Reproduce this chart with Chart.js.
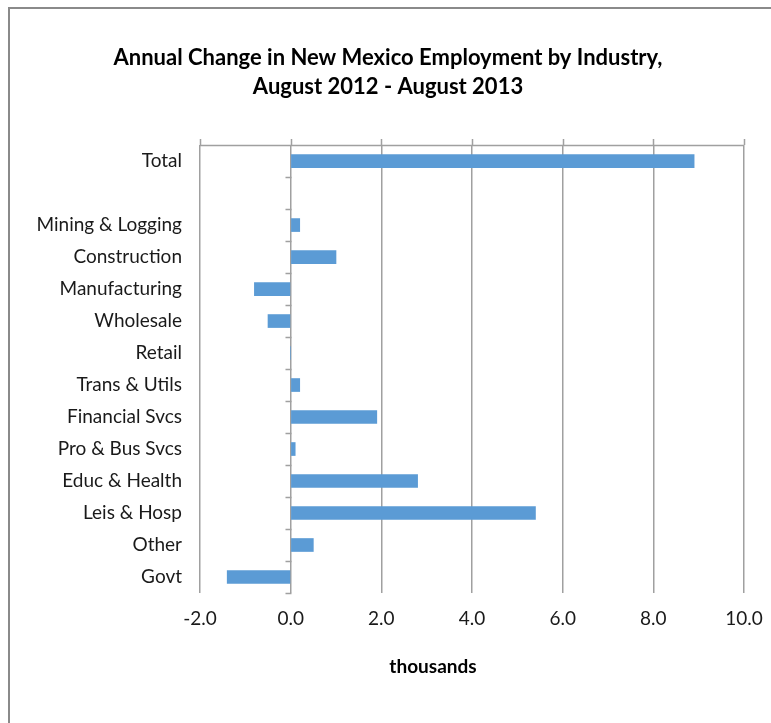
<!DOCTYPE html>
<html>
<head>
<meta charset="utf-8">
<script src="https://cdn.jsdelivr.net/npm/chart.js@4.4.1/dist/chart.umd.min.js"></script>
<style>
  html, body { margin: 0; padding: 0; background: #fff; overflow: hidden; }
  #wrap { position: relative; width: 771px; height: 723px; }
  #frame { position: absolute; left: 8px; top: 7px; width: 800px; height: 800px;
           border-left: 2px solid #8a8a8a; border-top: 2px solid #8a8a8a; }
  canvas { position: absolute; left: 0; top: 0; }
</style>
</head>
<body>
<div id="wrap">
  <div id="frame"></div>
  <canvas id="chart" width="771" height="723"></canvas>
</div>
<script>
const industries = ['Total', '', 'Mining & Logging', 'Construction', 'Manufacturing', 'Wholesale',
  'Retail', 'Trans & Utils', 'Financial Svcs', 'Pro & Bus Svcs', 'Educ & Health',
  'Leis & Hosp', 'Other', 'Govt'];
const changeThousands = [8.9, null, 0.2, 1.0, -0.8, -0.5, 0, 0.2, 1.9, 0.1, 2.8, 5.4, 0.5, -1.4];
const xTicks = [-2, 0, 2, 4, 6, 8, 10];

const fontFamily = 'Lato, "Open Sans", sans-serif';
const lineColor = '#a0a0a0';

// axis line at top, category ticks at zero, x-axis title
const excelAxes = {
    id: 'excelAxes',
    afterDatasetsDraw(chart) {
        const { ctx, chartArea, scales } = chart;
        const x = scales.x;
        ctx.save();
        ctx.strokeStyle = lineColor;
        ctx.lineWidth = 1.5;
        ctx.beginPath();
        ctx.moveTo(chartArea.left, chartArea.top + 0.5);
        ctx.lineTo(chartArea.right, chartArea.top + 0.5);
        xTicks.forEach(v => {
            const px = Math.round(x.getPixelForValue(v)) + 0.5;
            ctx.moveTo(px, chartArea.top);
            ctx.lineTo(px, chartArea.top - 6);
        });
        const x0 = Math.round(x.getPixelForValue(0)) + 0.5;
        const band = (chartArea.bottom - chartArea.top) / industries.length;
        for (let i = 1; i <= industries.length; i++) {
            const py = Math.round(chartArea.top + i * band) + 0.5;
            ctx.moveTo(x0 - 6, py);
            ctx.lineTo(x0, py);
        }
        ctx.stroke();

        ctx.fillStyle = '#000';
        ctx.font = 'bold 19px ' + fontFamily;
        ctx.textAlign = 'center';
        ctx.textBaseline = 'middle';
        ctx.fillText('thousands', 433, 667);
        ctx.restore();
    }
};

new Chart(document.getElementById('chart'), {
    type: 'bar',
    data: {
        labels: industries,
        datasets: [{
            data: changeThousands,
            backgroundColor: '#5b9bd5',
            barThickness: 13
        }]
    },
    options: {
        indexAxis: 'y',
        responsive: false,
        animation: false,
        layout: { padding: { top: 0, left: 32, right: 27, bottom: 0 } },
        plugins: {
            legend: { display: false },
            tooltip: { enabled: false },
            title: {
                display: true,
                text: ['Annual Change in New Mexico Employment by Industry,', 'August 2012 - August 2013'],
                color: '#000',
                font: { family: fontFamily, size: 22, weight: 'bold', lineHeight: 1.32 },
                padding: { top: 43, bottom: 44 }
            }
        },
        scales: {
            x: {
                min: -2,
                max: 10,
                afterBuildTicks: scale => { scale.ticks = xTicks.map(v => ({ value: v })); },
                afterFit: scale => {
                    scale.height = 130;
                    scale.paddingLeft = 0;
                    scale.paddingRight = 0;
                },
                grid: { color: lineColor, lineWidth: 1.5, drawTicks: false },
                border: { display: false },
                ticks: {
                    padding: 14,
                    color: '#1a1a1a',
                    font: { family: fontFamily, size: 19 },
                    callback: v => v.toFixed(1)
                }
            },
            y: {
                afterFit: scale => { scale.width = 168; },
                grid: { display: false, drawTicks: false },
                border: { display: false },
                ticks: {
                    padding: 18,
                    autoSkip: false,
                    color: '#1a1a1a',
                    font: { family: fontFamily, size: 19 }
                }
            }
        }
    },
    plugins: [excelAxes]
});
</script>
</body>
</html>
